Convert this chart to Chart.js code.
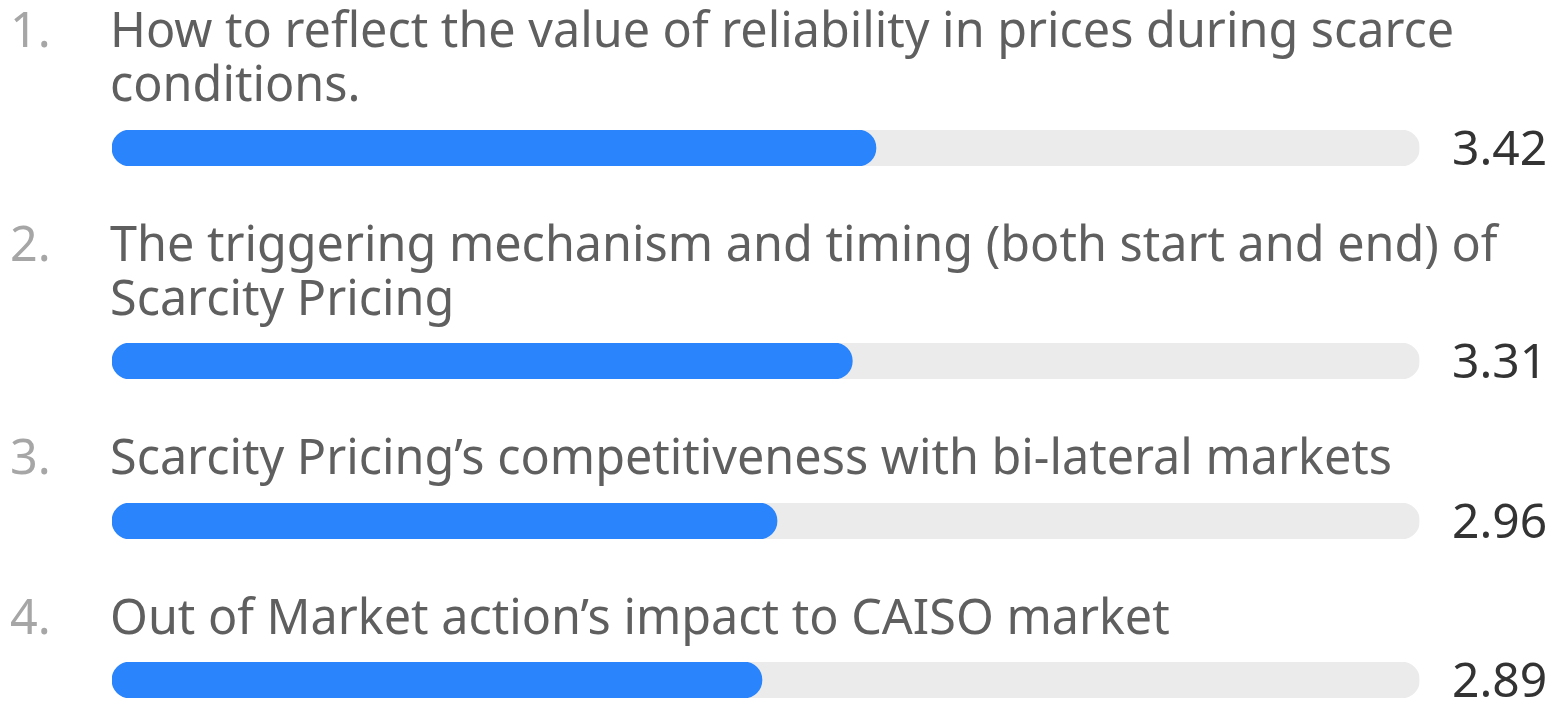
<!DOCTYPE html>
<html>
<head>
<meta charset="utf-8">
<script src="https://cdn.jsdelivr.net/npm/chart.js@4/dist/chart.umd.min.js"></script>
<style>
  html, body { margin: 0; padding: 0; background: #ffffff; }
  body { width: 1556px; height: 702px; overflow: hidden; position: relative; font-family: "Noto Sans", "Open Sans", sans-serif; }
  #wrap { padding-top: 1px; }
  .item { position: relative; margin-top: 42px; }
  .item:first-child { margin-top: 0; }
  .head { position: relative; font-size: 48.5px; line-height: 54px; color: #5f5f5f; white-space: nowrap; padding-left: 110px; }
  .num { position: absolute; left: 10px; top: 0; color: #a6a6a6; }
  .chartbox { margin-top: 13.5px; margin-left: 112px; width: 1444px; height: 50px; position: relative; }
  canvas { display: block; }
</style>
</head>
<body>
<div id="wrap"></div>
<script>
// ---- data ----
const itemNumbers = ["1.", "2.", "3.", "4."];
const itemLabels = [
  ["How to reflect the value of reliability in prices during scarce", "conditions."],
  ["The triggering mechanism and timing (both start and end) of", "Scarcity Pricing"],
  ["Scarcity Pricing\u2019s competitiveness with bi-lateral markets"],
  ["Out of Market action\u2019s impact to CAISO market"]
];
const scores = [3.42, 3.31, 2.96, 2.89];
const valueLabels = ["3.42", "3.31", "2.96", "2.89"];
const scaleMin = -0.132;
const scaleMax = 5.947;

const BLUE = "#2a84fc";
const TRACK = "#ebebeb";

const valuePlugin = {
  id: "valueText",
  afterDatasetsDraw(chart, args, opts) {
    const ctx = chart.ctx;
    const area = chart.chartArea;
    ctx.save();
    ctx.font = '48px "Noto Sans", "Open Sans", sans-serif';
    ctx.fillStyle = "#333333";
    ctx.textAlign = "left";
    ctx.textBaseline = "alphabetic";
    ctx.fillText(opts.text, area.right + 32.5, area.bottom - 1);
    ctx.restore();
  }
};

const wrap = document.getElementById("wrap");
scores.forEach((v, i) => {
  const item = document.createElement("div");
  item.className = "item";
  const head = document.createElement("div");
  head.className = "head";
  const num = document.createElement("span");
  num.className = "num";
  num.textContent = itemNumbers[i];
  head.appendChild(num);
  itemLabels[i].forEach((line, k) => {
    if (k > 0) head.appendChild(document.createElement("br"));
    head.appendChild(document.createTextNode(line));
  });
  item.appendChild(head);
  const box = document.createElement("div");
  box.className = "chartbox";
  const cv = document.createElement("canvas");
  box.appendChild(cv);
  item.appendChild(box);
  wrap.appendChild(item);

  new Chart(cv, {
    type: "bar",
    data: {
      labels: [itemLabels[i].join(" ")],
      datasets: [
        {
          label: "Score",
          data: [[scaleMin, v]],
          backgroundColor: BLUE,
          borderRadius: 18,
          borderSkipped: false,
          barPercentage: 1,
          categoryPercentage: 1,
          grouped: false
        },
        {
          label: "Track",
          data: [[scaleMin, scaleMax]],
          backgroundColor: TRACK,
          borderRadius: 18,
          borderSkipped: false,
          barPercentage: 1,
          categoryPercentage: 1,
          grouped: false
        }
      ]
    },
    options: {
      indexAxis: "y",
      responsive: true,
      maintainAspectRatio: false,
      animation: false,
      layout: { padding: { top: 7, bottom: 7, left: 0, right: 136.5 } },
      scales: {
        x: { display: false, min: scaleMin, max: scaleMax },
        y: { display: false }
      },
      plugins: {
        legend: { display: false },
        tooltip: { enabled: false },
        valueText: { text: valueLabels[i] }
      }
    },
    plugins: [valuePlugin]
  });
});
</script>
</body>
</html>
